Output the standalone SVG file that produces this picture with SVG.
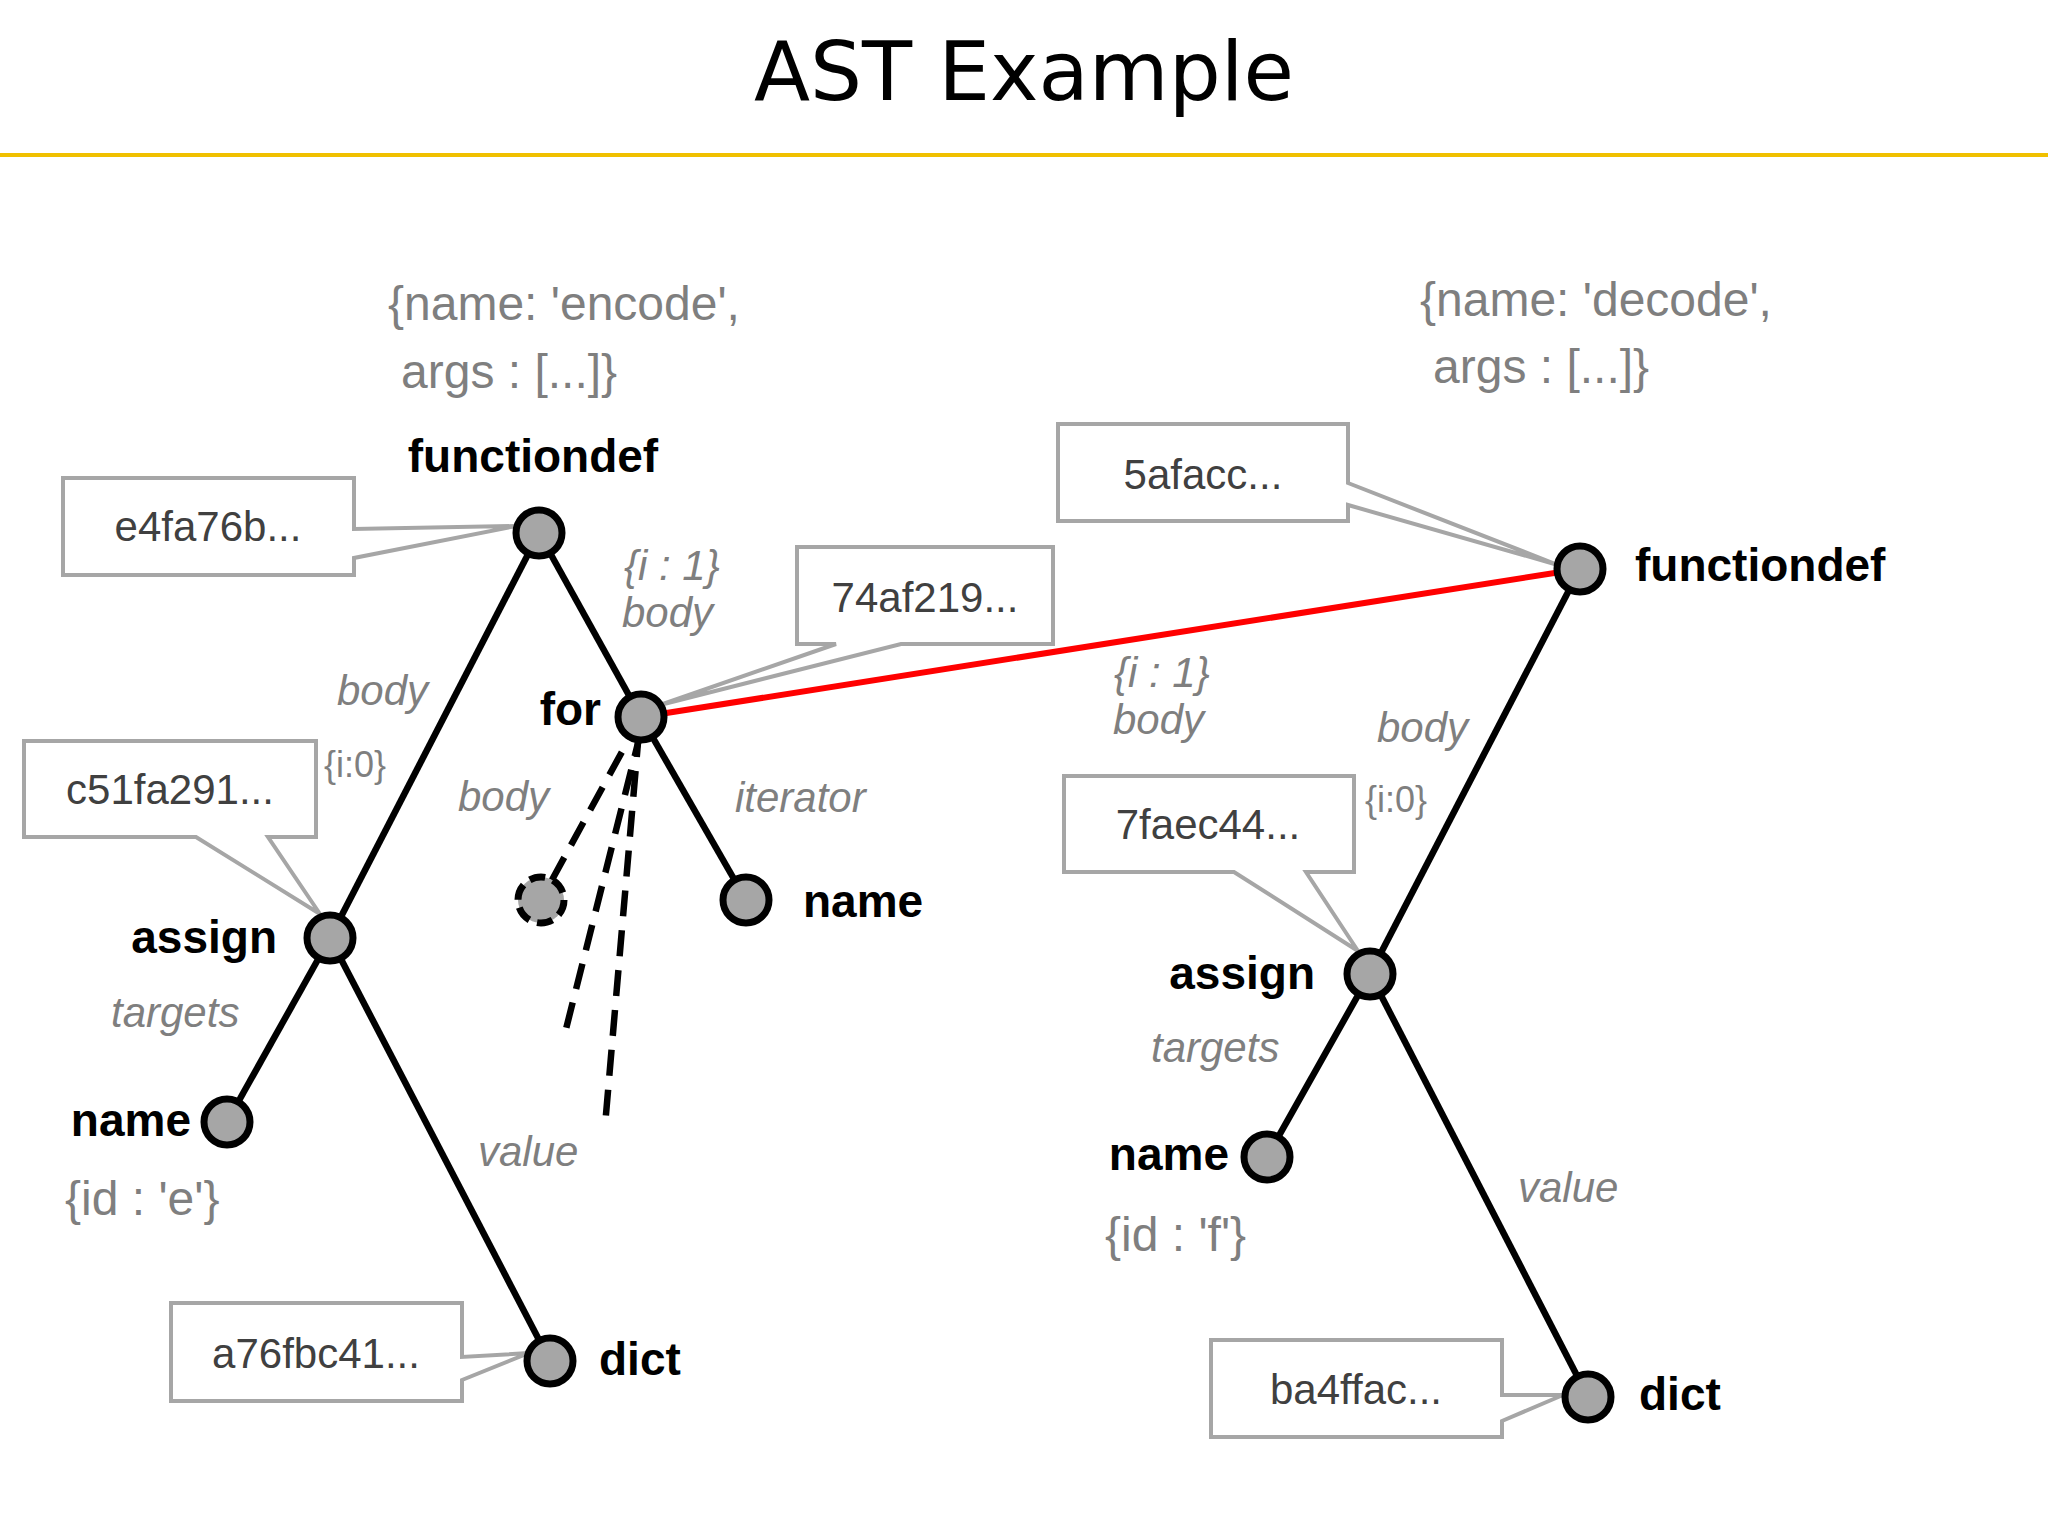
<svg xmlns="http://www.w3.org/2000/svg" width="2048" height="1536" viewBox="0 0 2048 1536">
<style>
.e{stroke:#000;stroke-width:6.5;fill:none}
.d{stroke:#000;stroke-width:6.5;fill:none;stroke-dasharray:26 14}
.n{fill:#a6a6a6;stroke:#000;stroke-width:7}
.c{fill:#fff;stroke:#a6a6a6;stroke-width:4}
.ct{font-family:"Liberation Sans",Arial,sans-serif;font-size:42px;fill:#404040;text-anchor:middle}
.b{font-family:"Liberation Sans",Arial,sans-serif;font-size:46px;font-weight:bold;fill:#000}
.g{font-family:"Liberation Sans",Arial,sans-serif;font-size:48px;fill:#7f7f7f}
.i{font-family:"Liberation Sans",Arial,sans-serif;font-size:42px;font-style:italic;fill:#7f7f7f}
.s{font-family:"Liberation Sans",Arial,sans-serif;font-size:36px;fill:#7f7f7f}
</style>
<rect width="2048" height="1536" fill="#fff"/>
<text x="1024" y="100" font-family="DejaVu Sans,sans-serif" font-size="82" text-anchor="middle" fill="#000">AST Example</text>
<line x1="0" y1="155" x2="2048" y2="155" stroke="#f0c000" stroke-width="4"/>
<g id="connectors">
<line class="e" x1="539" y1="533" x2="330" y2="938"/>
<line class="e" x1="539" y1="533" x2="641" y2="717"/>
<line class="e" x1="641" y1="717" x2="746" y2="900"/>
<line class="e" x1="330" y1="938" x2="227" y2="1122"/>
<line class="e" x1="330" y1="938" x2="550" y2="1361"/>
<line class="d" x1="641" y1="717" x2="541" y2="900"/>
<line class="d" x1="641" y1="731" x2="563" y2="1041"/>
<line class="d" x1="639" y1="731" x2="605" y2="1126"/>
<line x1="641" y1="717" x2="1580" y2="569" stroke="#f00" stroke-width="6"/>
<line class="e" x1="1580" y1="569" x2="1370" y2="974"/>
<line class="e" x1="1370" y1="974" x2="1267" y2="1157"/>
<line class="e" x1="1370" y1="974" x2="1588" y2="1397"/>
</g>
<g id="callouts">
<path class="c" d="M63,478 H354 V529 L516,526 L354,558 V575 H63 Z"/><text class="ct" x="208" y="541">e4fa76b...</text>
<path class="c" d="M797,547 H1053 V644 H901 L660,705 L836,644 H797 Z"/><text class="ct" x="925" y="612">74af219...</text>
<path class="c" d="M24,741 H316 V837 H268 L320,914 L196,837 H24 Z"/><text class="ct" x="170" y="804">c51fa291...</text>
<path class="c" d="M171,1303 H462 V1357 L529,1353 L462,1380 V1401 H171 Z"/><text class="ct" x="316" y="1368">a76fbc41...</text>
<path class="c" d="M1058,424 H1348 V483 L1558,565 L1348,505 V521 H1058 Z"/><text class="ct" x="1203" y="489">5afacc...</text>
<path class="c" d="M1064,776 H1354 V872 H1306 L1358,951 L1234,872 H1064 Z"/><text class="ct" x="1208" y="839">7faec44...</text>
<path class="c" d="M1211,1340 H1502 V1395 L1563,1395 L1502,1421 V1437 H1211 Z"/><text class="ct" x="1356" y="1404">ba4ffac...</text>
</g>
<g id="fd1"><circle class="n" cx="539" cy="533" r="23"/><text class="b" x="533" y="472" text-anchor="middle">functiondef</text></g>
<g id="for1"><circle class="n" cx="641" cy="717" r="23"/><text class="b" x="601" y="725" text-anchor="end">for</text></g>
<g id="dashnode"><circle cx="541" cy="900" r="23" fill="#a6a6a6" stroke="#000" stroke-width="7" stroke-dasharray="16 8"/></g>
<g id="name1"><circle class="n" cx="746" cy="900" r="23"/><text class="b" x="803" y="917">name</text></g>
<g id="assign1"><circle class="n" cx="330" cy="938" r="23"/><text class="b" x="277" y="953" text-anchor="end">assign</text></g>
<g id="name2"><circle class="n" cx="227" cy="1122" r="23"/><text class="b" x="191" y="1136" text-anchor="end">name</text></g>
<g id="dict1"><circle class="n" cx="550" cy="1361" r="23"/><text class="b" x="599" y="1375">dict</text></g>
<g id="fd2"><circle class="n" cx="1580" cy="569" r="23"/><text class="b" x="1635" y="581">functiondef</text></g>
<g id="assign2"><circle class="n" cx="1370" cy="974" r="23"/><text class="b" x="1315" y="989" text-anchor="end">assign</text></g>
<g id="name3"><circle class="n" cx="1267" cy="1157" r="23"/><text class="b" x="1229" y="1170" text-anchor="end">name</text></g>
<g id="dict2"><circle class="n" cx="1588" cy="1397" r="23"/><text class="b" x="1639" y="1410">dict</text></g>
<g id="labels">
<text class="g" x="388" y="320">{name: 'encode',</text>
<text class="g" x="401" y="388">args : [...]}</text>
<text class="g" x="1420" y="316">{name: 'decode',</text>
<text class="g" x="1433" y="383">args : [...]}</text>
<text class="g" x="65" y="1215">{id : 'e'}</text>
<text class="g" x="1105" y="1251">{id : 'f'}</text>
<text class="i" x="624" y="580">{i : 1}</text>
<text class="i" x="622" y="627">body</text>
<text class="i" x="337" y="705">body</text>
<text class="s" x="324" y="777">{i:0}</text>
<text class="i" x="458" y="811">body</text>
<text class="i" x="735" y="812">iterator</text>
<text class="i" x="111" y="1027">targets</text>
<text class="i" x="478" y="1166">value</text>
<text class="i" x="1114" y="687">{i : 1}</text>
<text class="i" x="1113" y="734">body</text>
<text class="i" x="1377" y="742">body</text>
<text class="s" x="1365" y="812">{i:0}</text>
<text class="i" x="1151" y="1062">targets</text>
<text class="i" x="1518" y="1202">value</text>
</g>
</svg>
